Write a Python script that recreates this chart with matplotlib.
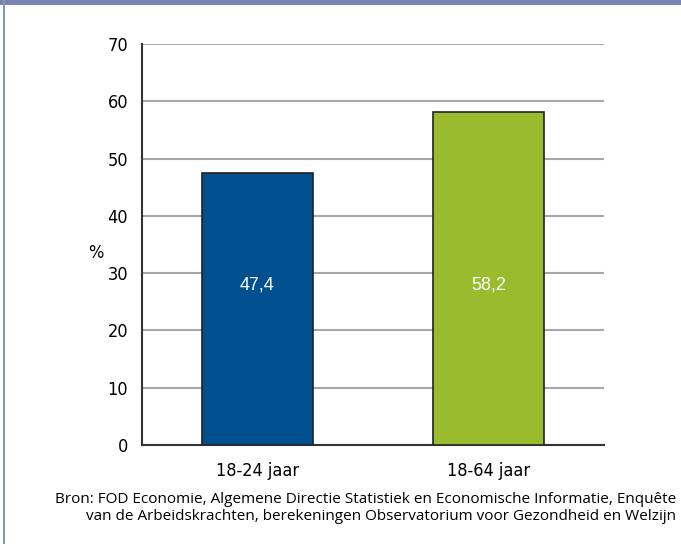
import numpy as np
import matplotlib.pyplot as plt
from matplotlib.patches import Rectangle

# data
categories = ["18-24 jaar", "18-64 jaar"]
values = [47.4, 58.2]
value_labels = ["47,4", "58,2"]
bar_colors = ["#004f8f", "#9bbb2e"]
yticks = [0, 10, 20, 30, 40, 50, 60, 70]
source = ("Bron: FOD Economie, Algemene Directie Statistiek en Economische Informatie, Enquête\n"
          "van de Arbeidskrachten, berekeningen Observatorium voor Gezondheid en Welzijn")

plt.rcParams['font.family'] = ['DejaVu Sans']
plt.rcParams['font.stretch'] = 'condensed'

fig = plt.figure(figsize=(6.81, 5.44), dpi=100)
fig.patch.set_facecolor("white")

# frame: top band and left border
fig.add_artist(Rectangle((0, 1 - 5 / 544), 1, 5 / 544, transform=fig.transFigure,
                         facecolor="#7783b0", edgecolor="none"))
fig.add_artist(Rectangle((3 / 681, 0), 1.5 / 681, 1, transform=fig.transFigure,
                         facecolor="#8a94c0", edgecolor="none"))

ax = fig.add_axes([142 / 681, 99 / 544, 462 / 681, 401 / 544])
x = np.arange(len(categories))
ax.bar(x, values, width=0.48, color=bar_colors, edgecolor="#222222", linewidth=1.2, zorder=3)

for xi, lab in zip(x, value_labels):
    ax.text(xi, 28, lab, color="white", ha="center", va="center", fontsize=13,
            family=['Liberation Sans', 'DejaVu Sans'], fontstretch='normal', zorder=4)

ax.set_xlim(-0.5, 1.5)
ax.set_ylim(0, 70)
ax.set_yticks(yticks)
ax.set_xticks(x)
ax.set_xticklabels(categories, fontsize=13)
ax.tick_params(axis="y", length=0, labelsize=13, pad=10)
ax.tick_params(axis="x", length=0, pad=12)
ax.yaxis.grid(True, color="#a8a8a8", linewidth=1.5, zorder=0)
ax.set_axisbelow(True)
for s in ["top", "right"]:
    ax.spines[s].set_visible(False)
ax.spines["left"].set_color("#333333")
ax.spines["left"].set_linewidth(1.5)
ax.spines["bottom"].set_color("#333333")
ax.spines["bottom"].set_linewidth(1.5)
ax.set_ylabel("%", rotation=0, fontsize=13, va="center")
ax.yaxis.set_label_coords(-0.1, 0.478)

fig.text(676 / 681, 1 - 508 / 544, source, ha="right", va="center", fontsize=11,
         linespacing=1.2, family=['Open Sans', 'DejaVu Sans'], fontstretch='normal')

fig.savefig("out.png", dpi=100)
